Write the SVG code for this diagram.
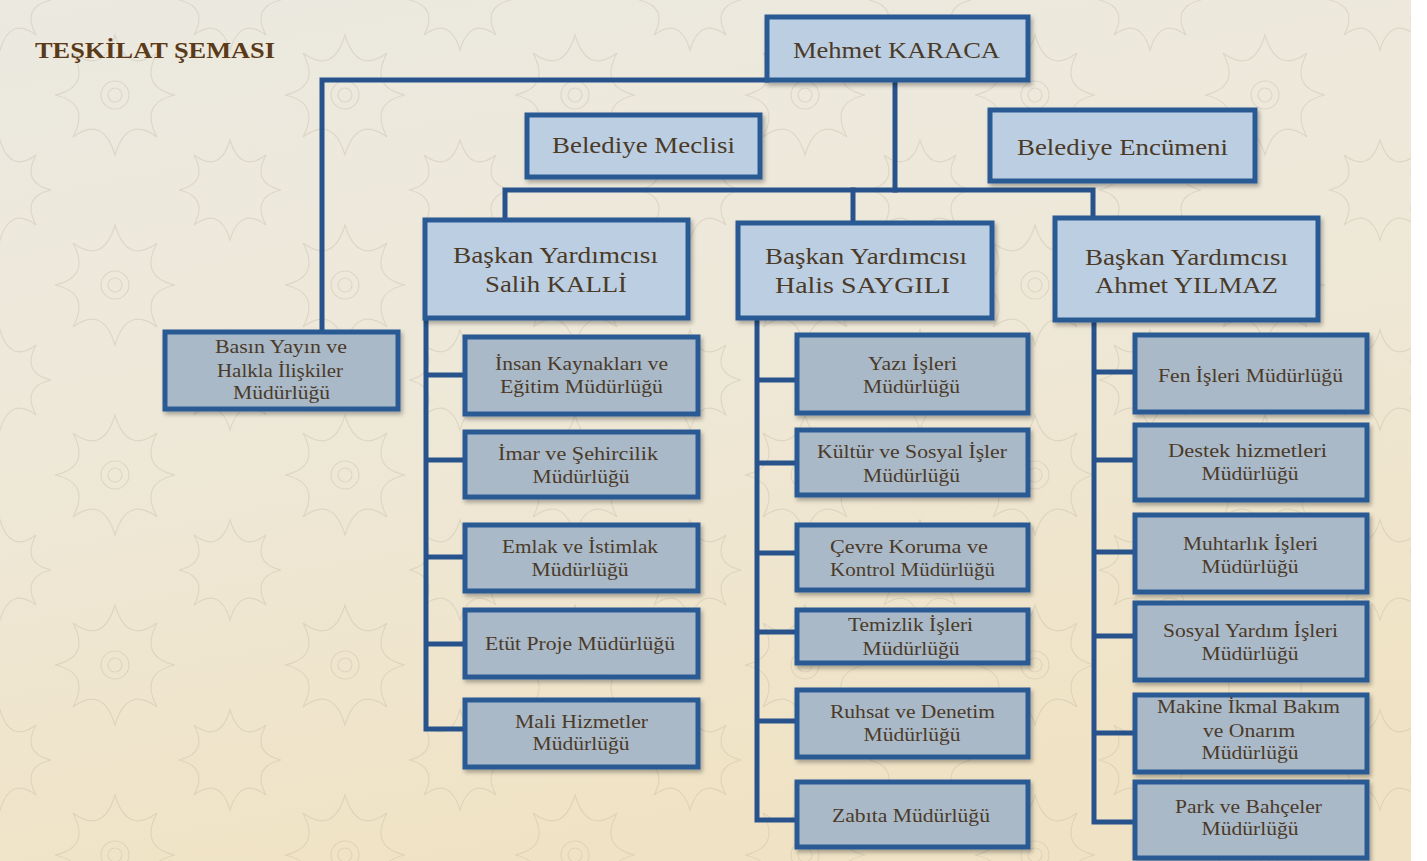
<svg xmlns="http://www.w3.org/2000/svg" width="1427" height="861" viewBox="0 0 1427 861">
<defs>
<linearGradient id="bg" x1="0" y1="0" x2="0.3" y2="1">
<stop offset="0" stop-color="#ebe9e0"/>
<stop offset="0.5" stop-color="#eee8d8"/>
<stop offset="1" stop-color="#f0e3c5"/>
</linearGradient>
<pattern id="orn" x="0" y="0" width="230" height="190" patternUnits="userSpaceOnUse">
<g fill="none" stroke="#c4bca8" stroke-width="1.2" opacity="0.4">
<path d="M115,95 m0,-60 q12,40 42,18 q-18,34 18,42 q-36,8 -18,42 q-30,-22 -42,18 q-12,-40 -42,-18 q18,-34 -18,-42 q36,-8 18,-42 q30,22 42,-18 z"/>
<circle cx="115" cy="95" r="14"/>
<circle cx="115" cy="95" r="7"/>
<path d="M0,0 m0,-50 q10,34 36,15 q-15,28 15,35 q-30,7 -15,35 q-26,-19 -36,15 q-10,-34 -36,-15 q15,-28 -15,-35 q30,-7 15,-35 q26,19 36,-15 z"/>
<path d="M230,0 m0,-50 q10,34 36,15 q-15,28 15,35 q-30,7 -15,35 q-26,-19 -36,15 q-10,-34 -36,-15 q15,-28 -15,-35 q30,-7 15,-35 q26,19 36,-15 z"/>
<path d="M0,190 m0,-50 q10,34 36,15 q-15,28 15,35 q-30,7 -15,35 q-26,-19 -36,15 q-10,-34 -36,-15 q15,-28 -15,-35 q30,-7 15,-35 q26,19 36,-15 z"/>
<path d="M230,190 m0,-50 q10,34 36,15 q-15,28 15,35 q-30,7 -15,35 q-26,-19 -36,15 q-10,-34 -36,-15 q15,-28 -15,-35 q30,-7 15,-35 q26,19 36,-15 z"/>
</g>
</pattern>
<filter id="sh" x="-10%" y="-10%" width="130%" height="140%">
<feDropShadow dx="2" dy="3" stdDeviation="2" flood-color="#000" flood-opacity="0.3"/>
</filter>
<style>
.top{fill:#bccfe2;stroke:#2b5a94;stroke-width:5;filter:url(#sh)}
.sub{fill:#a9b9c8;stroke:#2b5a94;stroke-width:5;filter:url(#sh)}
.con{fill:none;stroke:#27528c;stroke-width:5;stroke-linejoin:miter;stroke-linecap:square}
text{font-family:"Liberation Serif","Times New Roman",serif;fill:#4b3a28;text-anchor:middle}
.t1{font-size:23px}
.t2{font-size:18.5px}
.title{font-size:24px;font-weight:bold;fill:#5b3a1a;text-anchor:start}
</style>
</defs>
<rect x="0" y="0" width="1427" height="861" fill="url(#bg)"/>
<rect x="0" y="0" width="1427" height="861" fill="url(#orn)"/>
<rect x="1411" y="0" width="16" height="861" fill="#ffffff"/>

<text class="title" x="35" y="58" textLength="240" lengthAdjust="spacingAndGlyphs">TEŞKİLAT ŞEMASI</text>

<g id="connectors">
<path class="con" d="M767,80 H322 V332"/>
<path class="con" d="M895,80 V190"/>
<path class="con" d="M505,220 V190 H1093 V218"/>
<path class="con" d="M853,190 V223"/>
<path class="con" d="M426,318 V729 H465 M426,375 H465 M426,460 H465 M426,557 H465 M426,644 H465"/>
<path class="con" d="M757,318 V820 H797 M757,380 H797 M757,463 H797 M757,553 H797 M757,632 H797 M757,721 H797"/>
<path class="con" d="M1094,320 V822 H1135 M1094,372 H1135 M1094,460 H1135 M1094,552 H1135 M1094,636 H1135 M1094,733 H1135"/>
</g>

<g id="n-mehmet"><rect class="top" x="767" y="17" width="261" height="63"/><text class="t1" x="896.5" y="58" textLength="207" lengthAdjust="spacingAndGlyphs">Mehmet KARACA</text></g>
<g id="n-meclis"><rect class="top" x="527" y="115" width="233" height="62"/><text class="t1" x="643.5" y="153" textLength="183" lengthAdjust="spacingAndGlyphs">Belediye Meclisi</text></g>
<g id="n-encumen"><rect class="top" x="990" y="110" width="265" height="71"/><text class="t1" x="1122.5" y="155" textLength="211" lengthAdjust="spacingAndGlyphs">Belediye Encümeni</text></g>

<g id="n-salih"><rect class="top" x="425" y="220" width="263" height="98"/>
<text class="t1" x="555.5" y="263" textLength="205" lengthAdjust="spacingAndGlyphs">Başkan Yardımcısı</text>
<text class="t1" x="556" y="292" textLength="142" lengthAdjust="spacingAndGlyphs">Salih KALLİ</text></g>
<g id="n-halis"><rect class="top" x="738" y="223" width="254" height="95"/>
<text class="t1" x="866" y="264" textLength="202" lengthAdjust="spacingAndGlyphs">Başkan Yardımcısı</text>
<text class="t1" x="862.5" y="293" textLength="175" lengthAdjust="spacingAndGlyphs">Halis SAYGILI</text></g>
<g id="n-yilmaz"><rect class="top" x="1055" y="218" width="263" height="102"/>
<text class="t1" x="1186.5" y="265" textLength="203" lengthAdjust="spacingAndGlyphs">Başkan Yardımcısı</text>
<text class="t1" x="1186.5" y="293" textLength="183" lengthAdjust="spacingAndGlyphs">Ahmet YILMAZ</text></g>

<g id="n-basin"><rect class="sub" x="165" y="332" width="233" height="77"/>
<text class="t2" x="281" y="353" textLength="132" lengthAdjust="spacingAndGlyphs">Basın Yayın ve</text>
<text class="t2" x="280" y="377" textLength="126" lengthAdjust="spacingAndGlyphs">Halkla İlişkiler</text>
<text class="t2" x="281.5" y="399" textLength="97" lengthAdjust="spacingAndGlyphs">Müdürlüğü</text></g>

<g id="n-insan"><rect class="sub" x="465" y="337" width="233" height="77"/>
<text class="t2" x="581.5" y="370" textLength="173" lengthAdjust="spacingAndGlyphs">İnsan Kaynakları ve</text>
<text class="t2" x="581.5" y="393" textLength="163" lengthAdjust="spacingAndGlyphs">Eğitim Müdürlüğü</text></g>
<g id="n-imar"><rect class="sub" x="465" y="432" width="233" height="65"/>
<text class="t2" x="578" y="460" textLength="160" lengthAdjust="spacingAndGlyphs">İmar ve Şehircilik</text>
<text class="t2" x="581" y="483" textLength="97" lengthAdjust="spacingAndGlyphs">Müdürlüğü</text></g>
<g id="n-emlak"><rect class="sub" x="465" y="525" width="233" height="66"/>
<text class="t2" x="580" y="553" textLength="156" lengthAdjust="spacingAndGlyphs">Emlak ve İstimlak</text>
<text class="t2" x="580" y="576" textLength="97" lengthAdjust="spacingAndGlyphs">Müdürlüğü</text></g>
<g id="n-etut"><rect class="sub" x="465" y="610" width="233" height="67"/>
<text class="t2" x="580" y="650" textLength="190" lengthAdjust="spacingAndGlyphs">Etüt Proje Müdürlüğü</text></g>
<g id="n-mali"><rect class="sub" x="465" y="700" width="233" height="67"/>
<text class="t2" x="581.5" y="728" textLength="133" lengthAdjust="spacingAndGlyphs">Mali Hizmetler</text>
<text class="t2" x="581" y="750" textLength="97" lengthAdjust="spacingAndGlyphs">Müdürlüğü</text></g>

<g id="n-yazi"><rect class="sub" x="797" y="335" width="231" height="78"/>
<text class="t2" x="912.5" y="370" textLength="89" lengthAdjust="spacingAndGlyphs">Yazı İşleri</text>
<text class="t2" x="911.5" y="393" textLength="97" lengthAdjust="spacingAndGlyphs">Müdürlüğü</text></g>
<g id="n-kultur"><rect class="sub" x="797" y="430" width="231" height="65"/>
<text class="t2" x="912" y="458" textLength="190" lengthAdjust="spacingAndGlyphs">Kültür ve Sosyal İşler</text>
<text class="t2" x="911.5" y="482" textLength="97" lengthAdjust="spacingAndGlyphs">Müdürlüğü</text></g>
<g id="n-cevre"><rect class="sub" x="797" y="525" width="231" height="65"/>
<text class="t2" x="909" y="553" textLength="158" lengthAdjust="spacingAndGlyphs">Çevre Koruma ve</text>
<text class="t2" x="912.5" y="576" textLength="165" lengthAdjust="spacingAndGlyphs">Kontrol Müdürlüğü</text></g>
<g id="n-temizlik"><rect class="sub" x="797" y="610" width="231" height="53"/>
<text class="t2" x="910.5" y="631" textLength="125" lengthAdjust="spacingAndGlyphs">Temizlik İşleri</text>
<text class="t2" x="911" y="655" textLength="97" lengthAdjust="spacingAndGlyphs">Müdürlüğü</text></g>
<g id="n-ruhsat"><rect class="sub" x="797" y="690" width="231" height="67"/>
<text class="t2" x="912.5" y="718" textLength="165" lengthAdjust="spacingAndGlyphs">Ruhsat ve Denetim</text>
<text class="t2" x="912" y="741" textLength="97" lengthAdjust="spacingAndGlyphs">Müdürlüğü</text></g>
<g id="n-zabita"><rect class="sub" x="797" y="782" width="231" height="65"/>
<text class="t2" x="911" y="822" textLength="158" lengthAdjust="spacingAndGlyphs">Zabıta Müdürlüğü</text></g>

<g id="n-fen"><rect class="sub" x="1135" y="335" width="232" height="77"/>
<text class="t2" x="1250.5" y="382" textLength="185" lengthAdjust="spacingAndGlyphs">Fen İşleri Müdürlüğü</text></g>
<g id="n-destek"><rect class="sub" x="1135" y="425" width="232" height="75"/>
<text class="t2" x="1247.5" y="457" textLength="159" lengthAdjust="spacingAndGlyphs">Destek hizmetleri</text>
<text class="t2" x="1250" y="480" textLength="97" lengthAdjust="spacingAndGlyphs">Müdürlüğü</text></g>
<g id="n-muhtarlik"><rect class="sub" x="1135" y="515" width="232" height="77"/>
<text class="t2" x="1250.5" y="550" textLength="135" lengthAdjust="spacingAndGlyphs">Muhtarlık İşleri</text>
<text class="t2" x="1250" y="573" textLength="97" lengthAdjust="spacingAndGlyphs">Müdürlüğü</text></g>
<g id="n-sosyal"><rect class="sub" x="1135" y="603" width="232" height="77"/>
<text class="t2" x="1250.5" y="637" textLength="175" lengthAdjust="spacingAndGlyphs">Sosyal Yardım İşleri</text>
<text class="t2" x="1250" y="660" textLength="97" lengthAdjust="spacingAndGlyphs">Müdürlüğü</text></g>
<g id="n-makine"><rect class="sub" x="1135" y="695" width="232" height="77"/>
<text class="t2" x="1248.5" y="713" textLength="183" lengthAdjust="spacingAndGlyphs">Makine İkmal Bakım</text>
<text class="t2" x="1249" y="737" textLength="92" lengthAdjust="spacingAndGlyphs">ve Onarım</text>
<text class="t2" x="1250" y="759" textLength="97" lengthAdjust="spacingAndGlyphs">Müdürlüğü</text></g>
<g id="n-park"><rect class="sub" x="1135" y="782" width="232" height="76"/>
<text class="t2" x="1248.5" y="813" textLength="147" lengthAdjust="spacingAndGlyphs">Park ve Bahçeler</text>
<text class="t2" x="1250" y="835" textLength="97" lengthAdjust="spacingAndGlyphs">Müdürlüğü</text></g>
</svg>
